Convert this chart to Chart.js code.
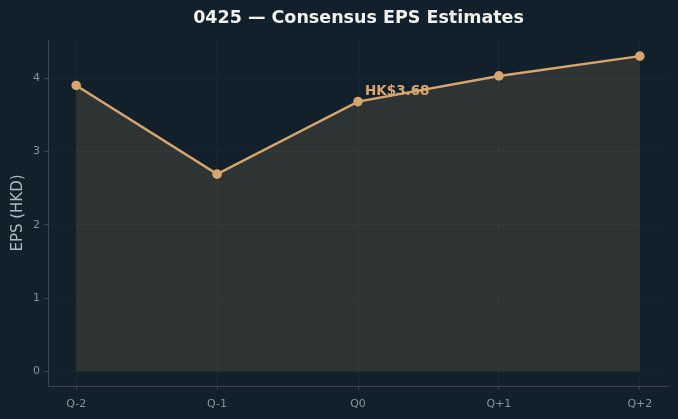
<!DOCTYPE html>
<html>
<head>
<meta charset="utf-8">
<script src="https://cdn.jsdelivr.net/npm/chart.js@4"></script>
<style>
  html, body { margin: 0; padding: 0; background: #11202a; }
  #wrap { width: 678px; height: 419px; }
</style>
</head>
<body>
<div id="wrap"><canvas id="c"></canvas></div>
<script>
const quarters = ["Q-2", "Q-1", "Q0", "Q+1", "Q+2"];
const epsValues = [3.90, 2.69, 3.68, 4.03, 4.30];
const yTicks = [0, 1, 2, 3, 4];
const titleText = "0425 \u2014 Consensus EPS Estimates";
const calloutIndex = 2;
const calloutText = "HK$3.68";

const tan = "#d8a56f";
const spine = "#3b4549";
const gridCol = "rgba(255,255,255,0.03)";
const tickText = "#8a9397";
const font = "'DejaVu Sans', sans-serif";

const overlay = {
  id: "overlay",
  afterDraw(chart){
    const ctx = chart.ctx;
    const x = chart.scales.x, y = chart.scales.y;
    ctx.save();
    ctx.fillStyle = "#f0f0ec";
    ctx.font = "bold 17.5px " + font;
    ctx.textAlign = "center";
    ctx.textBaseline = "middle";
    ctx.fillText(titleText, 358.5, 18);
    ctx.fillStyle = tan;
    ctx.font = "bold 13.5px " + font;
    ctx.textAlign = "left";
    ctx.textBaseline = "alphabetic";
    ctx.fillText(calloutText, x.getPixelForValue(calloutIndex) + 7, y.getPixelForValue(epsValues[calloutIndex]) - 7);
    ctx.restore();
  }
};

new Chart(document.getElementById("c"), {
  type: "line",
  data: {
    datasets: [{
      data: epsValues.map((v, i) => ({x: i, y: v})),
      borderColor: tan,
      borderWidth: 2.5,
      backgroundColor: "rgba(216,165,111,0.15)",
      fill: "origin",
      pointRadius: 4.8,
      pointBackgroundColor: tan,
      pointBorderColor: tan,
      pointBorderWidth: 0,
      tension: 0
    }]
  },
  options: {
    responsive: true,
    maintainAspectRatio: false,
    animation: false,
    layout: {padding: {top: 40, right: 10, left: 9, bottom: 0}},
    plugins: {legend: {display: false}, tooltip: {enabled: false}},
    scales: {
      x: {
        type: "linear",
        min: -0.2, max: 4.2,
        afterBuildTicks: s => { s.ticks = quarters.map((q, i) => ({value: i})); },
        afterFit: s => { s.height = 33; },
        ticks: {
          color: tickText, font: {family: font, size: 11}, padding: 8,
          callback: (v) => quarters[v]
        },
        grid: {color: gridCol, tickColor: spine, tickLength: 4},
        border: {color: spine, width: 1}
      },
      y: {
        min: -0.2, max: 4.52,
        afterBuildTicks: s => { s.ticks = yTicks.map(v => ({value: v})); },
        afterFit: s => { s.width = 39; },
        ticks: {color: tickText, font: {family: font, size: 11}, padding: 4},
        grid: {color: gridCol, tickColor: spine, tickLength: 4},
        border: {color: spine, width: 1},
        title: {display: true, text: "EPS (HKD)", color: "#b3bbbf", font: {family: font, size: 15}, padding: 0}
      }
    }
  },
  plugins: [overlay]
});
</script>
</body>
</html>
